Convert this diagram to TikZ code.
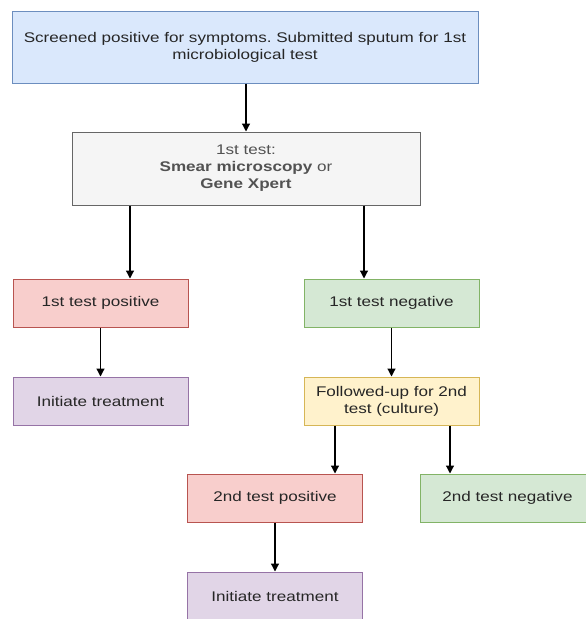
\documentclass[tikz,border=0pt]{standalone}
\usepackage{fontspec}
\setmainfont{Liberation Sans}[FakeStretch=1.22]
\usetikzlibrary{arrows.meta}
\frenchspacing

\definecolor{bluefill}{HTML}{DAE8FC}
\definecolor{blueline}{HTML}{6C8EBF}
\definecolor{greyfill}{HTML}{F5F5F5}
\definecolor{greyline}{HTML}{666666}
\definecolor{redfill}{HTML}{F8CECC}
\definecolor{redline}{HTML}{B85450}
\definecolor{greenfill}{HTML}{D5E8D4}
\definecolor{greenline}{HTML}{82B366}
\definecolor{purplefill}{HTML}{E1D5E7}
\definecolor{purpleline}{HTML}{9673A6}
\definecolor{yellowfill}{HTML}{FFF2CC}
\definecolor{yellowline}{HTML}{D6B656}
\definecolor{textgrey}{HTML}{262626}

\tikzset{
  box/.style={draw, line width=1pt, minimum width=175pt, minimum height=48pt, inner sep=0pt,
    align=center, font=\fontsize{14}{17}\selectfont, text=textgrey},
  arr/.style={-{Triangle[length=8pt,width=8pt]}, line width=1.2pt},
}

\begin{document}
\begin{tikzpicture}[x=1pt,y=-1pt]
  \clip (0,0) rectangle (586,619);

  \node[box, fill=bluefill, draw=blueline, minimum width=466pt, minimum height=72pt] (screen) at (245,47)
    {Screened positive for symptoms. Submitted sputum for 1st\\microbiological test};
  \node[box, fill=greyfill, draw=greyline, minimum width=348pt, minimum height=73pt, text=greyline!80!black] (test1) at (246,168.5)
    {1st test:\\\textbf{Smear microscopy} or\\\textbf{Gene Xpert}};

  \node[box, fill=redfill, draw=redline] (pos1) at (100.5,303) {1st test positive};
  \node[box, fill=greenfill, draw=greenline] (neg1) at (391.5,303) {1st test negative};
  \node[box, fill=purplefill, draw=purpleline] (treat1) at (100.5,401) {Initiate treatment};
  \node[box, fill=yellowfill, draw=yellowline] (follow) at (391.5,401) {Followed-up for 2nd\\test (culture)};

  \node[box, fill=redfill, draw=redline] (pos2) at (275,498) {2nd test positive};
  \node[box, fill=greenfill, draw=greenline] (neg2) at (507.5,498) {2nd test negative};
  \node[box, fill=purplefill, draw=purpleline] (treat2) at (275,596) {Initiate treatment};

  % connectors
  \draw[arr] (screen.south -| test1.north) -- (test1.north);
  \draw[arr] ([xshift=29.5pt]pos1.north |- test1.south) -- ([xshift=29.5pt]pos1.north);
  \draw[arr] ([xshift=-27.5pt]neg1.north |- test1.south) -- ([xshift=-27.5pt]neg1.north);
  \draw[arr] (pos1) -- (treat1);
  \draw[arr] (neg1) -- (follow);
  \draw[arr] ([xshift=-56.5pt]follow.south) -- ([xshift=-56.5pt]follow.south |- pos2.north);
  \draw[arr] ([xshift=58.5pt]follow.south) -- ([xshift=58.5pt]follow.south |- neg2.north);
  \draw[arr] (pos2) -- (treat2);
\end{tikzpicture}
\end{document}
